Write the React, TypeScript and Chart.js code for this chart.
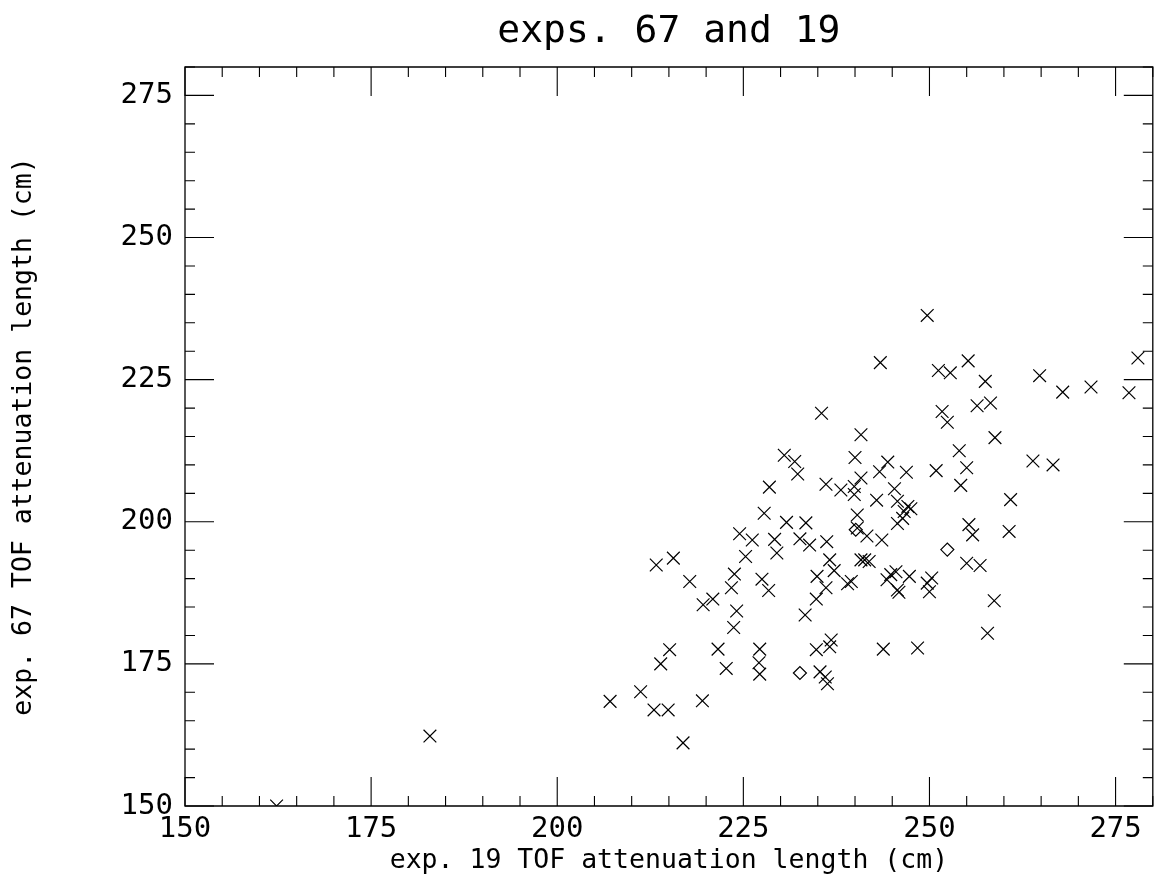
import React, { useEffect, useRef } from "react";
import { Chart, registerables } from "chart.js";

Chart.register(...registerables);

// ---- data ----
const crossX = [
  162.3, 182.9, 207.1, 211.2, 213.0, 214.9, 216.9, 219.5, 213.9, 215.1,
  221.6, 222.7, 223.7, 224.1, 219.6, 220.9, 217.8, 213.3, 215.6, 223.4,
  223.8, 224.5, 225.3, 226.2, 227.5, 228.4, 227.8, 228.5, 229.2, 229.5,
  230.8, 230.5, 231.9, 232.3, 233.4, 232.6, 233.9, 233.3, 227.2, 227.1,
  227.2, 234.8, 235.3, 236.0, 236.3, 236.8, 236.6, 234.8, 236.1, 234.9,
  236.6, 237.2, 236.2, 236.1, 235.5, 238.1, 239.0, 239.5, 240.8, 241.3,
  241.9, 240.3, 240.3, 241.6, 239.9, 239.9, 240.8, 240.0, 240.8, 242.9,
  243.3, 243.4, 244.4, 243.6, 244.3, 243.8, 244.8, 245.5, 245.7, 245.9,
  245.3, 245.7, 245.7, 246.4, 246.6, 247.1, 247.5, 246.9, 247.3, 248.4,
  249.7, 250.3, 250.0, 249.7, 250.9, 251.2, 252.8, 251.7, 252.4, 254.0,
  255.0, 254.2, 255.2, 255.3, 255.8, 255.0, 256.8, 256.4, 257.5, 258.2,
  258.8, 258.7, 257.8, 260.7, 260.9, 263.9, 264.8, 266.6, 267.9, 271.7,
  276.8, 278.0,
];
const crossY = [
  150.0, 162.3, 168.4, 170.1, 166.9, 166.9, 161.1, 168.5, 175.0, 177.5,
  177.6, 174.2, 181.4, 184.3, 185.4, 186.4, 189.5, 192.4, 193.6, 188.4,
  190.8, 197.9, 193.9, 196.8, 189.9, 187.9, 201.5, 206.1, 196.9, 194.5,
  199.9, 211.7, 210.6, 208.4, 199.8, 197.0, 195.9, 183.6, 177.6, 175.2,
  173.2, 177.5, 173.6, 172.7, 171.5, 179.2, 178.0, 186.4, 188.4, 190.4,
  193.3, 191.4, 196.5, 206.6, 219.1, 205.6, 189.1, 189.5, 193.3, 193.3,
  193.0, 198.9, 201.2, 197.5, 206.2, 204.8, 207.7, 211.3, 215.3, 203.8,
  208.8, 228.0, 210.5, 196.8, 189.8, 177.6, 190.7, 191.2, 188.0, 187.6,
  205.8, 203.6, 199.7, 200.6, 201.8, 202.7, 202.3, 208.7, 190.4, 177.8,
  189.2, 190.1, 187.7, 236.3, 209.0, 226.6, 226.2, 219.4, 217.5, 212.5,
  209.5, 206.4, 228.3, 199.5, 197.7, 192.7, 192.3, 220.4, 224.7, 220.9,
  214.8, 186.1, 180.4, 198.3, 203.9, 210.7, 225.7, 210.0, 222.8, 223.7,
  222.7, 228.8,
];
const diamondX = [232.6, 240.1, 252.4];
const diamondY = [173.4, 198.6, 195.1];

const xTickValues = [150, 175, 200, 225, 250, 275];
const yTickValues = [150, 175, 200, 225, 250, 275];
const axisMin = 150;
const axisMax = 280;
const minorStep = 5;
const majorStep = 25;

const chartTitle = "exps. 67 and 19";
const xTitle = "exp. 19 TOF attenuation length (cm)";
const yTitle = "exp. 67 TOF attenuation length (cm)";

const FONT = "'DejaVu Sans Mono', monospace";

const frameTicks = {
  id: "frameTicks",
  afterDraw(chart: any) {
    const { ctx, chartArea } = chart;
    const xs = chart.scales.x;
    const ys = chart.scales.y;
    const { left, right, top, bottom } = chartArea;
    ctx.save();
    ctx.strokeStyle = "#000";
    ctx.lineWidth = 1.3;
    ctx.beginPath();
    ctx.rect(left, top, right - left, bottom - top);
    ctx.stroke();
    ctx.lineWidth = 1.1;
    ctx.beginPath();
    for (let v = axisMin; v <= axisMax + 1e-6; v += minorStep) {
      const len = v % majorStep === 0 ? 29 : 10;
      const px = xs.getPixelForValue(v);
      ctx.moveTo(px, bottom);
      ctx.lineTo(px, bottom - len);
      ctx.moveTo(px, top);
      ctx.lineTo(px, top + len);
      const py = ys.getPixelForValue(v);
      ctx.moveTo(left, py);
      ctx.lineTo(left + len, py);
      ctx.moveTo(right, py);
      ctx.lineTo(right - len, py);
    }
    ctx.stroke();
    ctx.restore();
  },
};

export default function App() {
  const ref = useRef<HTMLCanvasElement | null>(null);

  useEffect(() => {
    if (!ref.current) return;
    const crosses = crossX.map((x, i) => ({ x, y: crossY[i] }));
    const diamonds = diamondX.map((x, i) => ({ x, y: diamondY[i] }));
    const chart = new Chart(ref.current, {
      type: "scatter",
      data: {
        datasets: [
          {
            data: crosses,
            pointStyle: "crossRot",
            pointRadius: 9,
            borderColor: "#000",
            backgroundColor: "#000",
            borderWidth: 1.2,
          },
          {
            data: diamonds,
            pointStyle: "rectRot",
            pointRadius: 6.5,
            borderColor: "#000",
            backgroundColor: "rgba(0,0,0,0)",
            borderWidth: 1.2,
          },
        ],
      },
      options: {
        animation: false,
        responsive: false,
        layout: { padding: { left: 0, right: 5, top: 0, bottom: 0 } },
        plugins: {
          legend: { display: false },
          tooltip: { enabled: false },
          title: { display: false },
        },
        scales: {
          x: {
            type: "linear",
            position: "bottom",
            min: axisMin,
            max: axisMax,
            grid: { display: false, drawTicks: false },
            border: { display: false },
            afterBuildTicks: (s: any) => {
              s.ticks = xTickValues.map((v) => ({ value: v }));
            },
            ticks: {
              autoSkip: false,
              maxRotation: 0,
              color: "#000",
              padding: 6,
              font: { family: FONT, size: 29 },
              callback: (v: any) => String(v),
            },
            title: {
              display: true,
              text: xTitle,
              color: "#000",
              font: { family: FONT, size: 26.5 },
              padding: { top: 0, bottom: 13 },
            },
            afterFit: (s: any) => {
              s.height = 84;
            },
          },
          x2: {
            type: "linear",
            position: "top",
            display: true,
            min: axisMin,
            max: axisMax,
            grid: { display: false, drawTicks: false },
            border: { display: false },
            ticks: { display: false },
            title: {
              display: true,
              text: chartTitle,
              color: "#000",
              font: { family: FONT, size: 38 },
              padding: { top: 9, bottom: 0 },
            },
            afterFit: (s: any) => {
              s.height = 67;
            },
          },
          y: {
            type: "linear",
            position: "left",
            min: axisMin,
            max: axisMax,
            grid: { display: false, drawTicks: false },
            border: { display: false },
            afterBuildTicks: (s: any) => {
              s.ticks = yTickValues.map((v) => ({ value: v }));
            },
            ticks: {
              autoSkip: false,
              color: "#000",
              padding: 12,
              font: { family: FONT, size: 29 },
              callback: (v: any) => String(v),
            },
            title: {
              display: true,
              text: yTitle,
              color: "#000",
              font: { family: FONT, size: 26.5 },
              padding: { top: 8, bottom: 0 },
            },
            afterFit: (s: any) => {
              s.width = 185;
            },
          },
        },
      },
      plugins: [frameTicks],
    } as any);
    return () => chart.destroy();
  }, []);

  return (
    <div style={{ position: "absolute", left: 0, top: 0, width: 1163, height: 890, background: "#fff" }}>
      <canvas ref={ref} width={1163} height={890} style={{ display: "block" }} />
    </div>
  );
}
